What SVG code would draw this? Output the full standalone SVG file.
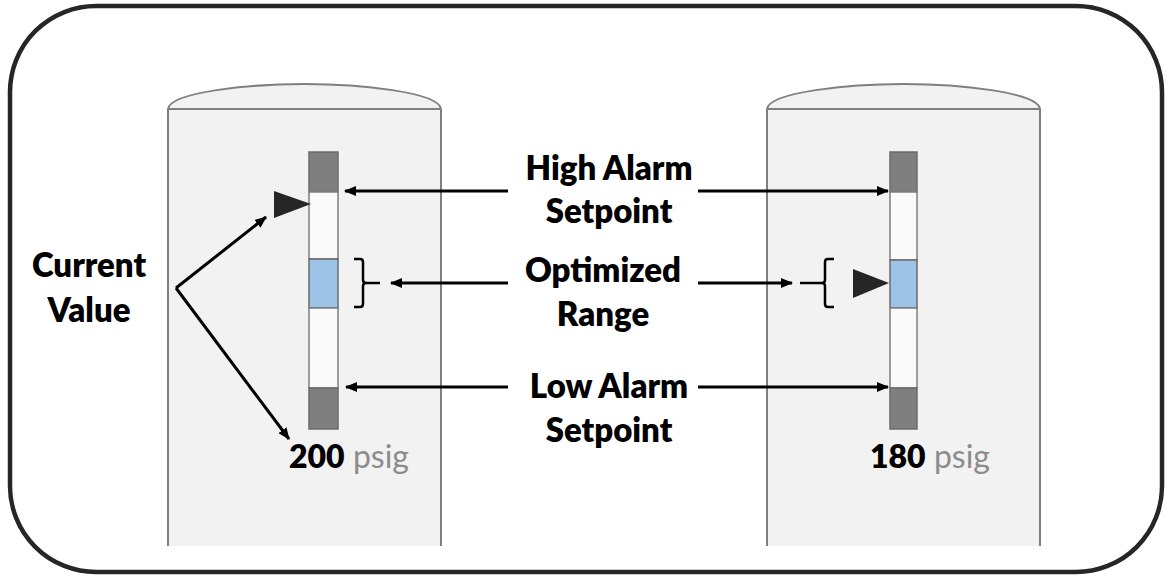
<svg xmlns="http://www.w3.org/2000/svg" width="1166" height="576" viewBox="0 0 1166 576">
  <defs>
    <marker id="head" viewBox="0 0 12 10" refX="11" refY="5" markerWidth="12" markerHeight="10" markerUnits="userSpaceOnUse" orient="auto">
      <path d="M0,0 L12,5 L0,10 Z" fill="#000"/>
    </marker>
    <style>
      .tank { fill: #f2f2f2; stroke: #7f7f7f; stroke-width: 2; }
      .seg-dark { fill: #7f7f7f; stroke: #6b6b6b; stroke-width: 1.5; }
      .seg-light { fill: #fafafa; stroke: #7f7f7f; stroke-width: 1.5; }
      .seg-blue { fill: #9dc3e6; stroke: #6b6b6b; stroke-width: 1.5; }
      .pointer { fill: #262626; }
      .bracket { fill: none; stroke: #000; stroke-width: 2.5; stroke-linejoin: round; }
      .conn { fill: none; stroke: #000; stroke-width: 3; marker-end: url(#head); }
      .label { font-family: Lato, "Open Sans", sans-serif; font-weight: 800; font-size: 33px; fill: #000; text-anchor: middle; }
      .value { font-family: Lato, "Open Sans", sans-serif; font-size: 32px; }
      .num { font-weight: 800; fill: #000; }
      .unit { fill: #8c8c8c; }
    </style>
  </defs>

  <!-- outer frame -->
  <rect x="10" y="6" width="1152" height="566" rx="86" ry="86" fill="#fff" stroke="#262626" stroke-width="4.5"/>

  <!-- left vessel -->
  <g id="tank-left">
    <path class="tank" d="M168,546 L168,109 C170,92 250,84 304.5,84 C359,84 439,92 441,109 L441,546"/>
    <line x1="168" y1="109" x2="441" y2="109" stroke="#7f7f7f" stroke-width="2"/>
    <rect class="seg-dark" x="309" y="152" width="29" height="40"/>
    <rect class="seg-light" x="309" y="192" width="29" height="67"/>
    <rect class="seg-blue" x="309" y="259" width="29" height="49"/>
    <rect class="seg-light" x="309" y="308" width="29" height="80"/>
    <rect class="seg-dark" x="309" y="388" width="29" height="41"/>
    <path class="pointer" d="M274,191 L311,204 L274,218 Z"/>
    <path class="bracket" d="M354,259 L360,259 Q363,259 363,262 L363,280 Q363,283 366,283 Q363,283 363,286 L363,304 Q363,307 360,307 L354,307"/>
    <line x1="366" y1="283" x2="380" y2="283" stroke="#000" stroke-width="2.5"/>
    <text class="value" x="289" y="468"><tspan class="num">200</tspan><tspan class="unit"> psig</tspan></text>
  </g>

  <!-- right vessel -->
  <g id="tank-right">
    <path class="tank" d="M767,546 L767,109 C769,92 849,84 903.5,84 C958,84 1038,92 1040,109 L1040,546"/>
    <line x1="767" y1="109" x2="1040" y2="109" stroke="#7f7f7f" stroke-width="2"/>
    <rect class="seg-dark" x="890" y="152" width="27" height="40"/>
    <rect class="seg-light" x="890" y="192" width="27" height="68"/>
    <rect class="seg-blue" x="890" y="260" width="27" height="48"/>
    <rect class="seg-light" x="890" y="308" width="27" height="80"/>
    <rect class="seg-dark" x="890" y="388" width="27" height="41"/>
    <path class="pointer" d="M853,269 L889,283 L853,298 Z"/>
    <path class="bracket" d="M834,259 L828,259 Q825,259 825,262 L825,280 Q825,283 822,283 Q825,283 825,286 L825,304 Q825,307 828,307 L834,307"/>
    <line x1="822" y1="283" x2="800" y2="283" stroke="#000" stroke-width="2.5"/>
    <text class="value" x="870" y="468"><tspan class="num">180</tspan><tspan class="unit"> psig</tspan></text>
  </g>

  <!-- labels -->
  <g id="label-current">
    <text class="label" x="89" y="277">Current</text>
    <text class="label" x="89" y="322">Value</text>
  </g>
  <g id="label-high">
    <text class="label" x="609" y="180">High Alarm</text>
    <text class="label" x="609" y="223">Setpoint</text>
  </g>
  <g id="label-range">
    <text class="label" x="603" y="282">Optimized</text>
    <text class="label" x="603" y="326">Range</text>
  </g>
  <g id="label-low">
    <text class="label" x="609" y="398">Low Alarm</text>
    <text class="label" x="609" y="442">Setpoint</text>
  </g>

  <!-- connectors -->
  <g id="connectors">
    <line class="conn" x1="508" y1="191" x2="345" y2="191"/>
    <line class="conn" x1="698" y1="191" x2="888" y2="191"/>
    <line class="conn" x1="508" y1="283" x2="391" y2="283"/>
    <line class="conn" x1="698" y1="283" x2="792" y2="283"/>
    <line class="conn" x1="508" y1="387" x2="346" y2="387"/>
    <line class="conn" x1="698" y1="387" x2="888" y2="387"/>
    <line class="conn" x1="176" y1="288" x2="266" y2="217"/>
    <line class="conn" x1="176" y1="288" x2="289" y2="439"/>
  </g>
</svg>
